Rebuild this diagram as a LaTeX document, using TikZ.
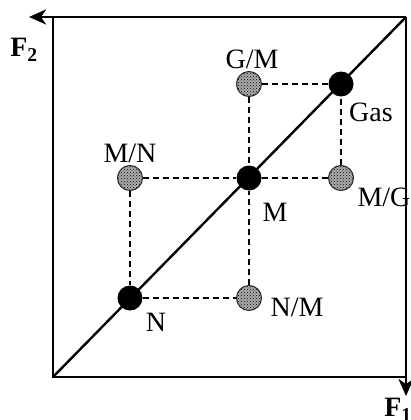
\documentclass[tikz,border=0pt]{standalone}
\usepackage{fontspec}
\setmainfont{Liberation Serif}
\usetikzlibrary{arrows.meta,patterns}
\tikzset{
  every node/.style={font=\fontsize{28}{30}\selectfont},
  frame/.style={draw=black, line width=2.8pt},
  axis/.style={-{Stealth[length=17pt,width=15pt,inset=5pt]}, draw=black, line width=2.8pt},
  diag/.style={draw=black, line width=2.4pt},
  link/.style={draw=black, line width=1.4pt, dash pattern=on 6pt off 4pt},
  pure/.style={circle, fill=black, minimum size=25pt, inner sep=0pt},
  mixed/.style={circle, draw=black!85, line width=1pt, pattern=crosshatch dots,
    preaction={fill=black!32}, minimum size=25pt, inner sep=0pt},
}
\begin{document}
\begin{tikzpicture}[x=1pt, y=-1pt]
  \useasboundingbox (0,0) rectangle (411,420);
  % Frame corners
  \coordinate (bl) at (53,377);
  \coordinate (tl) at (53,17);
  \coordinate (tr) at (406,17);
  \coordinate (br) at (406,377);
  \coordinate (f2end) at (29,17);
  \coordinate (f1end) at (406,396);
  \draw[frame] (tl) -- (bl) -- (br);
  \draw[axis] (tr) -- (f2end);
  \draw[axis] (tr) -- (f1end);
  \node (f2) at (24,50) {\textbf{F}\textsubscript{\textbf{2}}};
  \node (f1) at (398,410) {\textbf{F}\textsubscript{\textbf{1}}};
  % Diagonal
  \draw[diag] (bl) -- (tr);
  % Phase points
  \node[pure] (n) at (130,298) {};
  \node[pure] (m) at (249,178) {};
  \node[pure] (gas) at (341,84) {};
  \node[mixed] (mn) at (130,178) {};
  \node[mixed] (nm) at (249,298) {};
  \node[mixed] (gm) at (249,84) {};
  \node[mixed] (mg) at (341,178) {};
  % Dashed links
  \foreach \a/\b in {n/nm, nm/m, mn/m, mn/n, m/mg, mg/gas, gm/gas, gm/m} {
    \draw[link] (\a) -- (\b);
  }
  % Labels
  \node (ln) at (156,322) {N};
  \node (lnm) at (297,307) {N/M};
  \node (lmn) at (130,153) {M/N};
  \node (lm) at (275,212) {M};
  \node (lmg) at (384,197) {M/G};
  \node (lgm) at (252,59) {G/M};
  \node (lgas) at (371,112) {Gas};
\end{tikzpicture}
\end{document}
